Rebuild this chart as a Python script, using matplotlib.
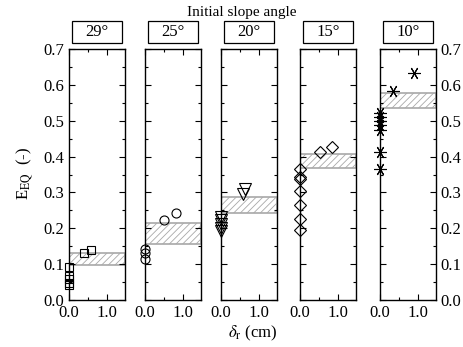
import matplotlib
matplotlib.use("Agg")
import matplotlib.pyplot as plt
from matplotlib.patches import Rectangle
from matplotlib.ticker import MultipleLocator, FixedLocator

plt.rcParams["font.family"] = ["Liberation Serif", "DejaVu Serif"]
plt.rcParams["mathtext.fontset"] = "stix"
plt.rcParams["hatch.linewidth"] = 0.6

# slope angle panels
angles = ["29°", "25°", "20°", "15°", "10°"]

# displacement delta_r (cm) and E_EQ per panel
dr_29 = [0.0, 0.0, 0.0, 0.0, 0.0, 0.40, 0.58]
eq_29 = [0.092, 0.067, 0.058, 0.048, 0.042, 0.130, 0.140]
dr_25 = [0.0, 0.0, 0.0, 0.50, 0.82]
eq_25 = [0.142, 0.130, 0.115, 0.223, 0.243]
dr_20 = [0.0, 0.0, 0.0, 0.0, 0.0, 0.62, 0.58]
eq_20 = [0.232, 0.222, 0.212, 0.202, 0.192, 0.310, 0.296]
dr_15 = [0.0, 0.0, 0.0, 0.0, 0.0, 0.0, 0.0, 0.53, 0.84]
eq_15 = [0.365, 0.343, 0.337, 0.304, 0.265, 0.226, 0.195, 0.413, 0.427]
dr_10 = [0.0, 0.0, 0.0, 0.0, 0.0, 0.0, 0.0, 0.34, 0.90]
eq_10 = [0.522, 0.510, 0.500, 0.488, 0.474, 0.413, 0.365, 0.583, 0.633]

# hatched band (low, high) per panel
bands = [(0.099, 0.130), (0.156, 0.216), (0.244, 0.286), (0.368, 0.406), (0.536, 0.576)]

series = [(dr_29, eq_29), (dr_25, eq_25), (dr_20, eq_20), (dr_15, eq_15), (dr_10, eq_10)]
markers = ["s", "o", "v", "D", (6, 2, 90)]
msizes = [6, 6.5, 8, 6, 9]

fig = plt.figure(figsize=(4.64, 3.47), dpi=100)
lefts = [69, 145, 221, 300, 380]
W, H = 464.0, 347.0

for i, (dr, eq) in enumerate(series):
    ax = fig.add_axes([lefts[i] / W, (H - 300) / H, 56 / W, 251 / H])
    lo, hi = bands[i]
    ax.axhspan(lo, hi, facecolor="white", edgecolor="#a8a8a8", hatch="/////",
               linewidth=1.2, zorder=1)
    mk = markers[i]
    if mk == (6, 2, 90):
        ax.plot(dr, eq, linestyle="none", marker=mk, markersize=msizes[i],
                color="black", markeredgewidth=0.8, zorder=3, clip_on=False)
    else:
        ax.plot(dr, eq, linestyle="none", marker=mk, markersize=msizes[i],
                markerfacecolor="none", markeredgecolor="black",
                markeredgewidth=0.8, zorder=3, clip_on=False)
    ax.set_xlim(0, 1.47)
    ax.set_ylim(0, 0.7)
    ax.xaxis.set_major_locator(FixedLocator([0.0, 1.0]))
    ax.xaxis.set_minor_locator(FixedLocator([0.5]))
    ax.set_xticklabels(["0.0", "1.0"])
    ax.yaxis.set_major_locator(MultipleLocator(0.1))
    ax.yaxis.set_minor_locator(MultipleLocator(0.05))
    ax.tick_params(which="both", direction="in", top=True, right=True,
                   labelsize=12, width=0.8)
    ax.tick_params(which="major", length=4)
    ax.tick_params(which="minor", length=2.5)
    for s in ax.spines.values():
        s.set_linewidth(1.0)
    if i == 0:
        ax.set_yticklabels([f"{v:.1f}" for v in ax.get_yticks()])
    elif i == len(series) - 1:
        ax.tick_params(labelleft=False, labelright=True)
        ax.set_yticklabels([f"{v:.1f}" for v in ax.get_yticks()])
    else:
        ax.tick_params(labelleft=False)

    box = Rectangle((0.05, 1.023), 0.9, 0.09, transform=ax.transAxes,
                    facecolor="white", edgecolor="black", linewidth=0.9,
                    clip_on=False)
    ax.add_patch(box)
    ax.text(0.5, 1.068, angles[i], transform=ax.transAxes, ha="center",
            va="center", fontsize=12)

fig.text(0.52, 0.965, "Initial slope angle", ha="center", va="center", fontsize=11)
fig.text(0.055, 0.50, r"E$_{\mathrm{EQ}}$  (-)", rotation=90, ha="center",
         va="center", fontsize=12)
fig.text(0.545, 0.04, r"$\delta$$_{\mathrm{r}}$ (cm)", ha="center",
         va="center", fontsize=12)

fig.savefig("out.png", dpi=100)
